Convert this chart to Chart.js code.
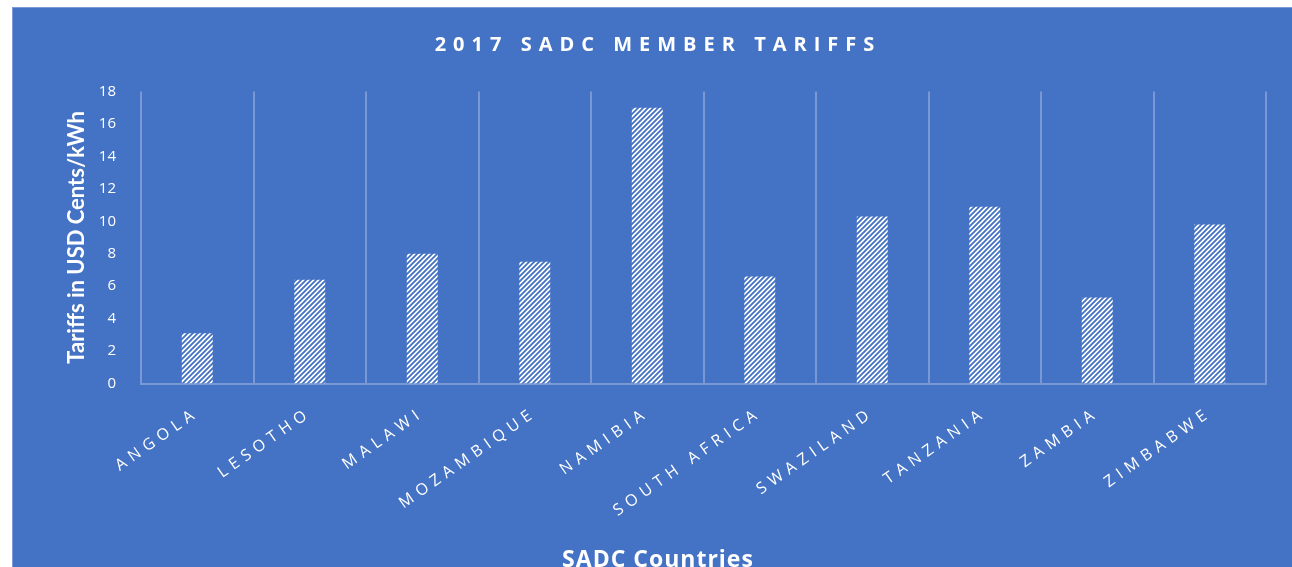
<!DOCTYPE html>
<html>
<head>
<meta charset="utf-8">
<title>2017 SADC Member Tariffs</title>
<script src="https://cdn.jsdelivr.net/npm/chart.js@4/dist/chart.umd.min.js"></script>
<style>
  html, body { margin: 0; padding: 0; background: #ffffff; overflow: hidden; }
  #frame {
    position: absolute; left: 12px; top: 7px;
    width: 1279px; height: 580px;
    background: #4472C4;
    border-top: 1px solid #7d9ad8;
    border-left: 1px solid #7d9ad8;
  }
  #chart { display: block; }
</style>
</head>
<body>
<div id="frame"><canvas id="chart" width="1279" height="580"></canvas></div>
<script>
// Residential electricity tariffs of SADC member states, 2017 (US cents per kWh)
const countries = ['ANGOLA', 'LESOTHO', 'MALAWI', 'MOZAMBIQUE', 'NAMIBIA',
                   'SOUTH AFRICA', 'SWAZILAND', 'TANZANIA', 'ZAMBIA', 'ZIMBABWE'];
const tariffs = [3.1, 6.4, 8.0, 7.5, 17.0, 6.6, 10.3, 10.9, 5.3, 9.8];
const yTicks = [0, 2, 4, 6, 8, 10, 12, 14, 16, 18];

const BLUE = '#4472C4';
const WHITE = '#ffffff';
const GRID = 'rgba(255,255,255,0.28)';

// Wide upward-diagonal hatch fill for the bars
function hatch() {
  const t = 5;
  const c = document.createElement('canvas');
  c.width = t; c.height = t;
  const g = c.getContext('2d');
  g.fillStyle = WHITE;
  g.fillRect(0, 0, t, t);
  g.strokeStyle = BLUE;
  g.lineWidth = 1.9;
  g.beginPath();
  g.moveTo(0, t); g.lineTo(t, 0);
  g.moveTo(-1, 1); g.lineTo(1, -1);
  g.moveTo(t - 1, t + 1); g.lineTo(t + 1, t - 1);
  g.stroke();
  return g.createPattern(c, 'repeat');
}

// Tracked (letter-spaced) text for the titles and the category labels
function spaced(obj, method, spacing) {
  const orig = obj[method];
  obj[method] = function (...args) {
    const ctx = this.ctx;
    ctx.save();
    ctx.letterSpacing = spacing;
    orig.apply(this, args);
    ctx.restore();
  };
}
const tracking = {
  id: 'tracking',
  afterLayout(chart) {
    const x = chart.scales.x;
    if (x && !x.__tracked) { spaced(x, 'drawLabels', '5.5px'); x.__tracked = true; }
    const t = chart.titleBlock;
    if (t && !t.__tracked) { spaced(t, 'draw', '7px'); t.__tracked = true; }
    const s = chart.boxes.find(b => b.options && b.options.text === 'SADC Countries');
    if (s && !s.__tracked) { spaced(s, 'draw', '1px'); s.__tracked = true; }
  }
};

new Chart(document.getElementById('chart'), {
  type: 'bar',
  data: {
    labels: countries,
    datasets: [{
      label: 'Tariff',
      data: tariffs,
      backgroundColor: hatch(),
      borderWidth: 0,
      barPercentage: 0.275,
      categoryPercentage: 1.0
    }]
  },
  options: {
    responsive: false,
    animation: false,
    devicePixelRatio: 1,
    layout: { padding: { left: 37, right: 26, top: 0, bottom: 0 } },
    plugins: {
      legend: { display: false },
      tooltip: { enabled: false },
      title: {
        display: true,
        text: '2017 SADC MEMBER TARIFFS',
        color: WHITE,
        font: { family: 'Open Sans', size: 20, weight: 'bold' },
        padding: { top: 25, bottom: 34.5 }
      },
      subtitle: {
        display: true,
        position: 'bottom',
        text: 'SADC Countries',
        color: WHITE,
        font: { family: 'Open Sans', size: 23, weight: 'bold' },
        padding: { top: 0, bottom: 14.2 }
      }
    },
    scales: {
      x: {
        grid: { display: true, offset: true, color: GRID, lineWidth: 2, drawTicks: false },
        border: { display: true, color: GRID, width: 2 },
        ticks: {
          color: WHITE,
          font: { family: 'Open Sans', size: 16 },
          minRotation: 35, maxRotation: 35,
          autoSkip: false,
          padding: 20
        },
        afterFit(scale) { scale.height = 162.7; }
      },
      y: {
        min: yTicks[0],
        max: yTicks[yTicks.length - 1],
        grid: { display: false },
        border: { display: false },
        afterBuildTicks(scale) { scale.ticks = yTicks.map(v => ({ value: v })); },
        ticks: {
          color: WHITE,
          font: { family: 'Open Sans', size: 15 },
          padding: 17
        },
        title: {
          display: true,
          text: 'Tariffs in USD Cents/kWh',
          color: WHITE,
          font: { family: 'Lato', size: 22, weight: 'bold' },
          padding: { top: 13.3, bottom: 0 }
        },
        afterFit(scale) { scale.width = 91; }
      }
    }
  },
  plugins: [tracking]
});
</script>
</body>
</html>
